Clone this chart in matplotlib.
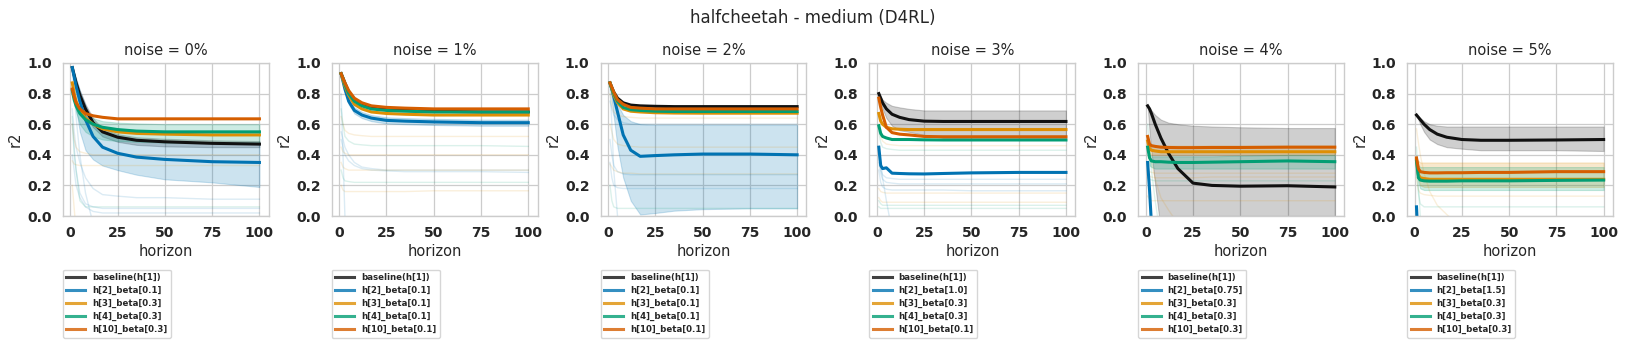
import numpy as np
import matplotlib
matplotlib.use("Agg")
import matplotlib.pyplot as plt

# horizon sample points
H = [1, 2, 3, 5, 8, 12, 17, 25, 35, 50, 75, 100]

noise_titles = ["noise = 0%", "noise = 1%", "noise = 2%", "noise = 3%", "noise = 4%", "noise = 5%"]

# legend labels per panel
labels = [
    ["baseline(h[1])", "h[2]_beta[0.1]", "h[3]_beta[0.3]", "h[4]_beta[0.3]", "h[10]_beta[0.3]"],
    ["baseline(h[1])", "h[2]_beta[0.1]", "h[3]_beta[0.1]", "h[4]_beta[0.1]", "h[10]_beta[0.1]"],
    ["baseline(h[1])", "h[2]_beta[0.1]", "h[3]_beta[0.1]", "h[4]_beta[0.1]", "h[10]_beta[0.1]"],
    ["baseline(h[1])", "h[2]_beta[1.0]", "h[3]_beta[0.3]", "h[4]_beta[0.3]", "h[10]_beta[0.1]"],
    ["baseline(h[1])", "h[2]_beta[0.75]", "h[3]_beta[0.3]", "h[4]_beta[0.3]", "h[10]_beta[0.3]"],
    ["baseline(h[1])", "h[2]_beta[1.5]", "h[3]_beta[0.3]", "h[4]_beta[0.3]", "h[10]_beta[0.3]"],
]

# main curves, one list per panel
baseline = [
    [0.97, 0.92, 0.87, 0.79, 0.70, 0.61, 0.55, 0.515, 0.495, 0.485, 0.475, 0.47],
    [0.93, 0.90, 0.87, 0.81, 0.76, 0.73, 0.71, 0.695, 0.69, 0.685, 0.68, 0.68],
    [0.87, 0.84, 0.81, 0.77, 0.74, 0.725, 0.72, 0.717, 0.715, 0.715, 0.715, 0.715],
    [0.80, 0.77, 0.74, 0.70, 0.665, 0.645, 0.63, 0.62, 0.618, 0.618, 0.618, 0.618],
    [0.72, 0.70, 0.67, 0.60, 0.51, 0.41, 0.31, 0.215, 0.20, 0.195, 0.198, 0.19],
    [0.66, 0.645, 0.63, 0.60, 0.565, 0.535, 0.515, 0.50, 0.495, 0.495, 0.497, 0.50],
]
h2 = [
    [0.97, 0.91, 0.85, 0.75, 0.63, 0.52, 0.45, 0.41, 0.385, 0.37, 0.355, 0.35],
    [0.93, 0.88, 0.83, 0.75, 0.69, 0.66, 0.64, 0.625, 0.62, 0.615, 0.61, 0.61],
    [0.87, 0.83, 0.78, 0.68, 0.53, 0.43, 0.39, 0.395, 0.40, 0.405, 0.405, 0.40],
    [0.45, 0.33, 0.31, 0.315, 0.28, 0.278, 0.276, 0.275, 0.278, 0.282, 0.285, 0.285],
    [0.35, 0.17, -0.05, -0.5, -1.0, -1.0, -1.0, -1.0, -1.0, -1.0, -1.0, -1.0],
    [0.06, -0.2, -0.5, -1.0, -1.0, -1.0, -1.0, -1.0, -1.0, -1.0, -1.0, -1.0],
]
h3 = [
    [0.87, 0.80, 0.75, 0.69, 0.64, 0.60, 0.57, 0.55, 0.54, 0.535, 0.53, 0.53],
    [0.93, 0.89, 0.85, 0.79, 0.73, 0.70, 0.68, 0.67, 0.665, 0.66, 0.66, 0.66],
    [0.87, 0.83, 0.79, 0.74, 0.70, 0.685, 0.68, 0.675, 0.673, 0.672, 0.672, 0.672],
    [0.67, 0.62, 0.60, 0.58, 0.57, 0.567, 0.565, 0.565, 0.565, 0.565, 0.565, 0.565],
    [0.49, 0.44, 0.43, 0.425, 0.42, 0.42, 0.42, 0.42, 0.42, 0.42, 0.42, 0.42],
    [0.37, 0.27, 0.25, 0.245, 0.24, 0.24, 0.24, 0.24, 0.24, 0.24, 0.24, 0.24],
]
h4 = [
    [0.82, 0.76, 0.72, 0.67, 0.63, 0.60, 0.58, 0.565, 0.555, 0.55, 0.55, 0.55],
    [0.93, 0.90, 0.86, 0.80, 0.75, 0.72, 0.70, 0.69, 0.685, 0.68, 0.68, 0.68],
    [0.87, 0.83, 0.80, 0.75, 0.71, 0.695, 0.69, 0.685, 0.683, 0.683, 0.683, 0.683],
    [0.59, 0.54, 0.52, 0.51, 0.50, 0.50, 0.50, 0.498, 0.497, 0.497, 0.497, 0.497],
    [0.45, 0.38, 0.36, 0.355, 0.355, 0.352, 0.35, 0.35, 0.352, 0.355, 0.36, 0.355],
    [0.36, 0.25, 0.235, 0.23, 0.228, 0.228, 0.228, 0.23, 0.23, 0.23, 0.233, 0.235],
]
h10 = [
    [0.83, 0.78, 0.74, 0.70, 0.67, 0.655, 0.645, 0.635, 0.635, 0.635, 0.635, 0.635],
    [0.93, 0.90, 0.87, 0.82, 0.77, 0.74, 0.72, 0.71, 0.705, 0.70, 0.70, 0.70],
    [0.87, 0.84, 0.81, 0.76, 0.73, 0.71, 0.705, 0.70, 0.70, 0.70, 0.70, 0.70],
    [0.77, 0.71, 0.66, 0.58, 0.545, 0.535, 0.53, 0.52, 0.518, 0.518, 0.518, 0.518],
    [0.52, 0.47, 0.46, 0.455, 0.45, 0.448, 0.447, 0.447, 0.448, 0.448, 0.45, 0.45],
    [0.38, 0.31, 0.29, 0.285, 0.282, 0.282, 0.283, 0.283, 0.285, 0.285, 0.29, 0.29],
]

# shaded bands: (panel, series, lower, upper)
bands = [
    (0, "k", [0.97, 0.90, 0.84, 0.75, 0.66, 0.58, 0.52, 0.485, 0.465, 0.455, 0.45, 0.45],
             [0.97, 0.93, 0.89, 0.82, 0.73, 0.64, 0.57, 0.535, 0.515, 0.505, 0.495, 0.49]),
    (0, "b", [0.97, 0.85, 0.70, 0.55, 0.43, 0.37, 0.33, 0.30, 0.27, 0.24, 0.22, 0.19],
             [0.97, 0.94, 0.90, 0.82, 0.72, 0.62, 0.56, 0.52, 0.50, 0.49, 0.48, 0.48]),
    (0, "g", [0.82, 0.74, 0.68, 0.60, 0.55, 0.52, 0.50, 0.49, 0.485, 0.48, 0.48, 0.48],
             [0.82, 0.78, 0.75, 0.71, 0.67, 0.64, 0.62, 0.61, 0.605, 0.60, 0.60, 0.60]),
    (1, "b", [0.93, 0.87, 0.81, 0.73, 0.67, 0.64, 0.62, 0.605, 0.60, 0.595, 0.59, 0.59],
             [0.93, 0.89, 0.85, 0.77, 0.71, 0.68, 0.66, 0.645, 0.64, 0.635, 0.63, 0.63]),
    (2, "b", [0.87, 0.75, 0.65, 0.45, 0.25, 0.10, 0.01, 0.02, 0.035, 0.045, 0.05, 0.05],
             [0.87, 0.84, 0.80, 0.73, 0.66, 0.62, 0.60, 0.595, 0.595, 0.595, 0.595, 0.595]),
    (3, "k", [0.80, 0.74, 0.70, 0.64, 0.59, 0.56, 0.55, 0.53, 0.51, 0.505, 0.505, 0.51],
             [0.80, 0.78, 0.76, 0.74, 0.72, 0.71, 0.70, 0.69, 0.69, 0.69, 0.69, 0.69]),
    (4, "k", [0.72, 0.55, 0.42, 0.20, -0.10, -0.40, -0.60, -0.70, -0.70, -0.70, -0.70, -0.70],
             [0.72, 0.71, 0.69, 0.66, 0.63, 0.61, 0.60, 0.59, 0.585, 0.58, 0.575, 0.575]),
    (4, "o", [0.49, 0.41, 0.40, 0.40, 0.40, 0.40, 0.40, 0.40, 0.40, 0.40, 0.40, 0.40],
             [0.49, 0.46, 0.46, 0.46, 0.46, 0.46, 0.46, 0.46, 0.46, 0.46, 0.46, 0.46]),
    (4, "g", [0.45, 0.33, 0.32, 0.31, 0.31, 0.31, 0.31, 0.31, 0.31, 0.31, 0.31, 0.31],
             [0.45, 0.40, 0.39, 0.39, 0.39, 0.39, 0.39, 0.39, 0.39, 0.395, 0.40, 0.40]),
    (5, "k", [0.66, 0.63, 0.60, 0.55, 0.50, 0.47, 0.45, 0.44, 0.43, 0.43, 0.43, 0.425],
             [0.66, 0.65, 0.64, 0.62, 0.60, 0.59, 0.585, 0.585, 0.585, 0.585, 0.585, 0.585]),
    (5, "o", [0.37, 0.24, 0.20, 0.19, 0.19, 0.19, 0.19, 0.19, 0.19, 0.19, 0.19, 0.19],
             [0.37, 0.36, 0.35, 0.35, 0.35, 0.35, 0.35, 0.35, 0.35, 0.35, 0.35, 0.35]),
    (5, "g", [0.36, 0.22, 0.18, 0.17, 0.17, 0.17, 0.17, 0.17, 0.17, 0.17, 0.17, 0.17],
             [0.36, 0.33, 0.32, 0.32, 0.32, 0.32, 0.32, 0.32, 0.32, 0.32, 0.32, 0.32]),
]

# faint lines of the other runs, per panel
faint_p0 = [
    ("b", [0.70, 0.55, 0.45, 0.35, 0.25, 0.18, 0.14, 0.13, 0.12, 0.12, 0.11, 0.11]),
    ("b", [0.60, 0.45, 0.30, 0.15, 0.08, 0.06, 0.05, 0.05, 0.05, 0.05, 0.05, 0.05]),
    ("b", [0.95, 0.80, 0.65, 0.40, 0.15, -0.05, -0.30, -0.60, -0.80, -1.0, -1.0, -1.0]),
    ("b", [0.40, 0.30, 0.20, 0.12, 0.06, 0.03, 0.02, 0.02, 0.02, 0.02, 0.02, 0.02]),
    ("o", [0.36, 0.34, 0.335, 0.33, 0.33, 0.33, 0.33, 0.33, 0.33, 0.33, 0.33, 0.33]),
    ("o", [0.60, 0.50, 0.45, 0.42, 0.41, 0.40, 0.40, 0.40, 0.40, 0.40, 0.40, 0.40]),
    ("g", [0.65, 0.40, 0.30, 0.10, 0.06, 0.06, 0.06, 0.06, 0.06, 0.06, 0.06, 0.06]),
    ("o", [0.20, 0.05, -0.10, -0.30, -0.50, -0.60, -0.70, -0.70, -0.70, -0.70, -0.70, -0.70]),
]
faint_p1 = [
    ("b", [0.55, 0.50, 0.45, 0.40, 0.35, 0.32, 0.31, 0.30, 0.30, 0.30, 0.30, 0.30]),
    ("b", [0.50, 0.45, 0.40, 0.36, 0.33, 0.31, 0.30, 0.295, 0.29, 0.29, 0.29, 0.285]),
    ("o", [0.65, 0.60, 0.56, 0.54, 0.53, 0.525, 0.52, 0.52, 0.52, 0.52, 0.52, 0.52]),
    ("g", [0.70, 0.60, 0.52, 0.49, 0.47, 0.465, 0.46, 0.46, 0.46, 0.46, 0.46, 0.455]),
    ("o", [0.45, 0.42, 0.41, 0.40, 0.40, 0.40, 0.40, 0.40, 0.40, 0.40, 0.40, 0.40]),
    ("o", [0.35, 0.32, 0.31, 0.30, 0.30, 0.30, 0.30, 0.30, 0.30, 0.30, 0.30, 0.30]),
    ("g", [0.30, 0.25, 0.23, 0.225, 0.22, 0.22, 0.22, 0.22, 0.22, 0.22, 0.22, 0.22]),
    ("o", [0.20, 0.17, 0.16, 0.16, 0.16, 0.16, 0.16, 0.16, 0.16, 0.165, 0.165, 0.165]),
    ("b", [0.80, 0.40, 0.00, -0.50, -1.0, -1.0, -1.0, -1.0, -1.0, -1.0, -1.0, -1.0]),
]
faint_p2 = [
    ("b", [0.75, 0.70, 0.66, 0.63, 0.61, 0.60, 0.60, 0.60, 0.60, 0.60, 0.60, 0.60]),
    ("o", [0.60, 0.55, 0.50, 0.47, 0.46, 0.455, 0.45, 0.45, 0.45, 0.45, 0.45, 0.45]),
    ("o", [0.34, 0.32, 0.30, 0.29, 0.28, 0.28, 0.275, 0.275, 0.275, 0.275, 0.275, 0.275]),
    ("b", [0.50, 0.40, 0.33, 0.29, 0.275, 0.27, 0.27, 0.27, 0.27, 0.27, 0.27, 0.27]),
    ("b", [0.35, 0.25, 0.20, 0.185, 0.18, 0.18, 0.18, 0.18, 0.18, 0.18, 0.18, 0.18]),
    ("g", [0.20, 0.10, 0.06, 0.05, 0.05, 0.05, 0.05, 0.05, 0.05, 0.05, 0.05, 0.05]),
    ("b", [0.85, 0.60, 0.30, 0.00, -0.30, -0.60, -1.0, -1.0, -1.0, -1.0, -1.0, -1.0]),
    ("o", [0.80, 0.72, 0.68, 0.66, 0.65, 0.645, 0.64, 0.64, 0.64, 0.64, 0.64, 0.64]),
]
faint_p3 = [
    ("o", [0.60, 0.52, 0.49, 0.47, 0.465, 0.46, 0.46, 0.46, 0.46, 0.46, 0.46, 0.46]),
    ("g", [0.55, 0.48, 0.45, 0.44, 0.435, 0.43, 0.43, 0.43, 0.43, 0.43, 0.43, 0.43]),
    ("b", [0.40, 0.30, 0.27, 0.25, 0.245, 0.24, 0.24, 0.24, 0.24, 0.24, 0.24, 0.24]),
    ("b", [0.35, 0.28, 0.24, 0.22, 0.215, 0.21, 0.21, 0.21, 0.21, 0.21, 0.21, 0.21]),
    ("b", [0.30, 0.22, 0.19, 0.175, 0.17, 0.17, 0.17, 0.17, 0.17, 0.165, 0.165, 0.165]),
    ("o", [0.18, 0.16, 0.155, 0.15, 0.15, 0.15, 0.15, 0.15, 0.15, 0.15, 0.15, 0.15]),
    ("o", [0.12, 0.10, 0.09, 0.09, 0.09, 0.09, 0.09, 0.09, 0.09, 0.09, 0.09, 0.09]),
    ("g", [0.10, 0.08, 0.07, 0.07, 0.07, 0.07, 0.07, 0.07, 0.07, 0.07, 0.07, 0.07]),
    ("g", [0.06, 0.05, 0.05, 0.05, 0.05, 0.05, 0.05, 0.05, 0.05, 0.05, 0.05, 0.05]),
    ("b", [0.45, 0.35, 0.25, 0.10, -0.10, -0.30, -0.60, -1.0, -1.0, -1.0, -1.0, -1.0]),
]
faint_p4 = [
    ("o", [0.30, 0.29, 0.285, 0.28, 0.28, 0.28, 0.28, 0.28, 0.28, 0.28, 0.28, 0.28]),
    ("o", [0.27, 0.26, 0.255, 0.25, 0.25, 0.25, 0.25, 0.25, 0.255, 0.255, 0.255, 0.255]),
    ("g", [0.25, 0.24, 0.235, 0.23, 0.23, 0.23, 0.23, 0.23, 0.23, 0.23, 0.23, 0.23]),
    ("o", [0.13, 0.11, 0.10, 0.10, 0.10, 0.10, 0.10, 0.10, 0.10, 0.10, 0.10, 0.10]),
    ("o", [0.50, 0.42, 0.35, 0.24, 0.12, 0.04, -0.05, -0.20, -0.40, -0.60, -0.80, -1.0]),
    ("g", [0.60, 0.45, 0.30, 0.10, -0.15, -0.40, -0.70, -1.0, -1.0, -1.0, -1.0, -1.0]),
]
faint_p5 = [
    ("o", [0.57, 0.48, 0.40, 0.28, 0.16, 0.07, 0.01, -0.08, -0.20, -0.40, -0.60, -0.80]),
    ("o", [0.25, 0.17, 0.15, 0.14, 0.135, 0.13, 0.13, 0.13, 0.13, 0.13, 0.13, 0.13]),
    ("g", [0.30, 0.15, 0.08, 0.06, 0.06, 0.06, 0.06, 0.06, 0.06, 0.06, 0.06, 0.06]),
    ("g", [0.45, 0.20, 0.00, -0.30, -0.60, -1.0, -1.0, -1.0, -1.0, -1.0, -1.0, -1.0]),
]
faint = [faint_p0, faint_p1, faint_p2, faint_p3, faint_p4, faint_p5]

colors = {"k": "#111111", "b": "#0173b2", "o": "#de8f05", "g": "#029e73", "r": "#d55e00"}

plt.rcParams["font.family"] = "DejaVu Sans"
plt.rcParams["text.color"] = "#262626"
plt.rcParams["axes.labelcolor"] = "#262626"
plt.rcParams["xtick.color"] = "#262626"
plt.rcParams["ytick.color"] = "#262626"

fig, axes = plt.subplots(1, 6, figsize=(16.26, 3.49), dpi=100)
fig.subplots_adjust(left=0.0387, right=0.992, top=0.8195, bottom=0.381, wspace=0.306)
fig.suptitle("halfcheetah - medium (D4RL)", fontsize=12, y=0.975)

for i, ax in enumerate(axes):
    ax.set_facecolor("white")
    for s in ax.spines.values():
        s.set_color("#cccccc")
        s.set_linewidth(1.0)
    ax.grid(True, color="#cccccc", linewidth=0.9)
    ax.set_axisbelow(True)

    for key, vals in faint[i]:
        ax.plot(H, vals, color=colors[key], alpha=0.14, lw=1.0)

    for p, key, lo, hi in bands:
        if p == i:
            ax.fill_between(H, lo, hi, color=colors[key], alpha=0.2, lw=0.8)

    series = [baseline[i], h2[i], h3[i], h4[i], h10[i]]
    keys = ["k", "b", "o", "g", "r"]
    for vals, key, lab in zip(series, keys, labels[i]):
        ax.plot(H, vals, color=colors[key], lw=2.2, label=lab)

    ax.set_ylim(0, 1)
    ax.set_xticks([0, 25, 50, 75, 100])
    ax.set_yticks([0, 0.2, 0.4, 0.6, 0.8, 1.0])
    ax.tick_params(axis="x", length=0, labelsize=10, pad=7)
    ax.tick_params(axis="y", length=0, labelsize=10, pad=8)
    for t in ax.get_xticklabels() + ax.get_yticklabels():
        t.set_fontweight("bold")
    ax.set_title(noise_titles[i], fontsize=10.5)
    ax.set_xlabel("horizon", fontsize=10.5, labelpad=3)
    ax.set_ylabel("r2", fontsize=10.5, labelpad=3)

    leg = ax.legend(loc="upper left", bbox_to_anchor=(0.0, -0.35), borderaxespad=0,
                    prop={"weight": "bold", "size": 6.2}, handlelength=2.2,
                    frameon=True, fancybox=True, labelspacing=0.45)
    leg.get_frame().set_edgecolor("#cccccc")
    for ln in leg.get_lines():
        ln.set_alpha(0.8)

fig.savefig("out.png", dpi=100)
